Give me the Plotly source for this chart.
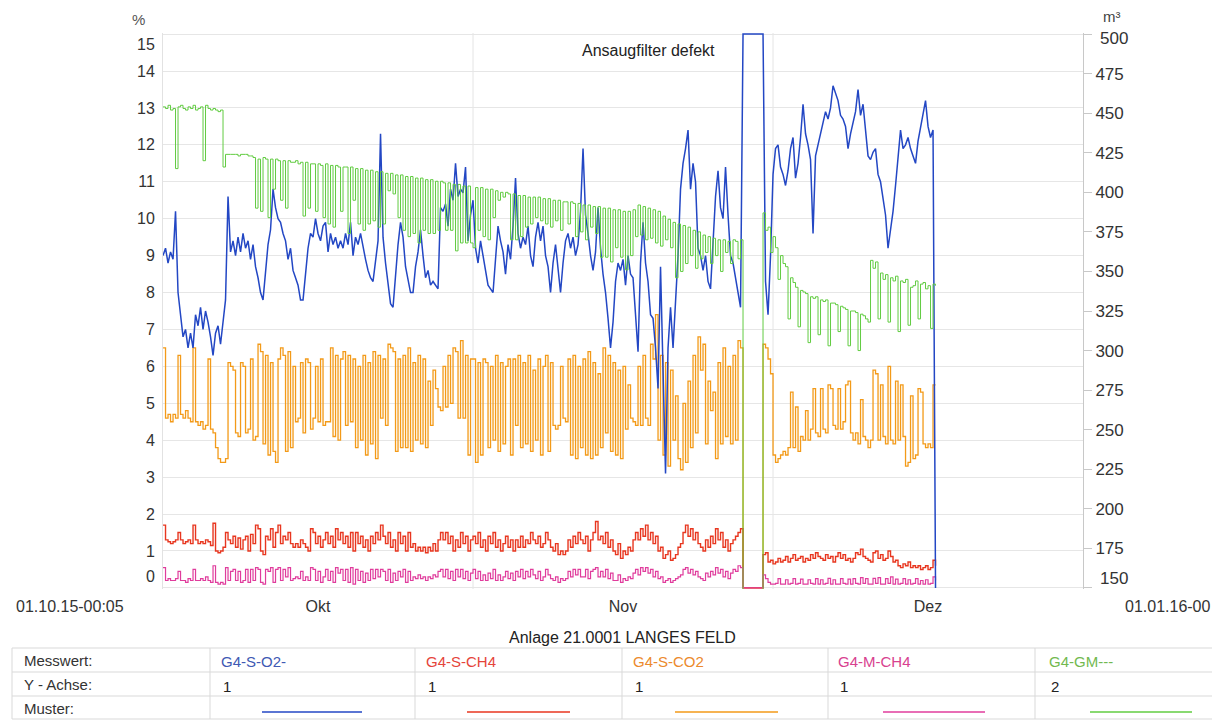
import pandas as pd
import plotly.graph_objects as go

# ---------------- data (6-hour samples from 01.10.2015 00:05) ----------------
# G4-S-O2-  (%; left axis)  - values above the scale are shown clamped at 15
o2 = [
    9.0, 9.2, 8.8, 9.1, 8.9, 10.2, 8.0, 7.3,
    6.8, 7.0, 6.5, 6.9, 6.5, 7.4, 7.1, 7.6,
    7.0, 7.5, 7.2, 6.8, 6.3, 6.9, 7.1, 6.6,
    7.2, 7.8, 10.6, 9.1, 9.4, 9.0, 9.5, 9.1,
    9.6, 9.2, 9.4, 8.9, 9.3, 8.7, 8.4, 8.0,
    7.8, 8.5, 9.3, 9.7, 10.8, 10.3, 10.0, 9.9,
    9.6, 9.4, 8.9, 9.2, 8.6, 8.4, 8.2, 7.8,
    7.8, 8.5, 9.2, 9.6, 9.5, 10.0, 9.6, 9.4,
    9.8, 9.9, 9.1, 9.6, 9.3, 9.5, 9.2, 9.4,
    9.2, 9.6, 9.3, 9.9, 9.0, 9.5, 9.3, 9.6,
    9.2, 8.9, 8.6, 8.4, 8.3, 8.8, 9.4, 12.3,
    9.5, 8.8, 8.2, 7.7, 7.6, 8.6, 9.3, 9.9,
    9.5, 8.7, 8.3, 8.0, 8.0, 8.7, 9.1, 9.7,
    9.0, 8.4, 8.6, 8.2, 8.3, 8.2, 8.1, 10.3,
    10.2, 10.4, 9.8, 10.8, 10.5, 11.5, 10.6, 10.8,
    10.7, 11.4, 9.4, 10.1, 10.5, 9.2, 8.8, 9.4,
    9.0, 8.6, 8.2, 8.1, 8.0, 8.9, 9.8, 9.4,
    9.1, 8.5, 9.3, 8.9, 9.8, 11.1, 9.6, 9.2,
    9.5, 9.3, 9.8, 9.0, 8.7, 9.5, 9.9, 9.4,
    9.8, 9.0, 8.7, 8.0, 8.8, 9.3, 8.6, 8.0,
    8.8, 9.4, 9.6, 9.2, 9.5, 9.0, 9.3, 10.2,
    11.9, 10.1, 9.6, 9.0, 8.6, 9.1, 10.3, 9.2,
    8.5, 8.0, 7.3, 6.5, 7.2, 8.3, 8.8, 8.6,
    8.9, 8.2, 9.0, 8.5, 8.4, 7.4, 6.4, 8.8,
    9.9, 8.8, 8.3, 7.4, 7.3, 6.5, 5.4, 8.7,
    6.0, 3.1, 6.5, 7.6, 6.5, 7.8, 9.0, 10.8,
    11.5, 11.9, 12.4, 10.8, 11.5, 11.0, 9.2, 9.0,
    8.6, 9.0, 8.3, 8.1, 9.2, 10.6, 11.3, 10.3,
    10.0, 11.4, 10.1, 9.0, 8.8, 8.4, 7.9, 7.6,
    15.0, 15.0, 15.0, 15.0, 15.0, 15.0, 15.0, 15.0,
    15.0, 8.3, 7.4, 9.0, 11.2, 11.9, 12.0, 11.4,
    11.2, 10.9, 11.3, 11.9, 12.2, 11.1, 11.5, 12.2,
    13.1, 12.3, 12.0, 11.6, 9.6, 11.7, 12.0, 12.3,
    12.6, 12.9, 12.7, 13.0, 13.6, 13.4, 13.2, 12.8,
    12.7, 12.5, 11.9, 12.3, 12.6, 12.9, 13.5, 12.8,
    13.1, 12.3, 11.7, 11.6, 11.8, 11.9, 11.2, 11.0,
    10.6, 10.1, 9.2, 9.7, 10.2, 10.9, 11.6, 12.4,
    11.9, 12.0, 12.2, 11.9, 11.7, 11.5, 12.1, 12.5,
    12.8, 13.2, 12.5, 12.2, 12.4, 0.0,
]

# G4-S-CO2 (%; left axis)
co2 = [
    6.5, 4.6, 4.7, 4.5, 4.7, 4.6, 6.3, 4.7,
    4.6, 4.8, 4.6, 4.5, 6.5, 4.5, 4.4, 4.5,
    4.3, 4.4, 6.2, 4.3, 4.2, 3.8, 3.5, 3.4,
    3.4, 3.5, 6.1, 6.0, 5.9, 4.2, 4.1, 6.1,
    6.0, 4.2, 4.3, 6.2, 4.0, 4.1, 6.6, 6.4,
    3.9, 6.3, 3.6, 6.1, 3.7, 3.4, 6.2, 6.5,
    6.3, 3.7, 6.4, 3.8, 6.0, 4.5, 4.6, 6.1,
    4.2, 6.2, 6.1, 4.3, 4.6, 6.0, 4.5, 6.2,
    4.4, 4.5, 4.5, 6.5, 4.1, 6.3, 4.0, 6.2,
    6.4, 4.4, 6.3, 4.5, 6.2, 3.8, 6.0, 4.0,
    6.3, 3.6, 6.1, 3.9, 6.4, 3.5, 6.3, 4.6,
    6.2, 4.4, 6.6, 6.5, 6.4, 3.7, 6.2, 3.8,
    6.3, 3.8, 6.5, 3.7, 6.1, 4.0, 6.3, 3.9,
    6.2, 3.8, 5.6, 4.4, 5.9, 5.4, 4.9, 4.8,
    6.0, 4.9, 6.3, 5.0, 6.5, 6.4, 4.6, 6.7,
    4.6, 6.3, 3.6, 6.2, 6.2, 3.4, 6.1, 3.6,
    6.2, 6.1, 3.8, 6.0, 4.0, 6.3, 3.7, 6.1,
    3.9, 6.0, 6.2, 3.6, 6.2, 4.4, 6.3, 3.8,
    6.1, 3.9, 6.3, 3.7, 5.9, 4.0, 6.2, 3.6,
    6.0, 6.3, 3.7, 6.1, 4.4, 4.3, 4.4, 6.0,
    4.6, 4.5, 6.2, 3.6, 6.3, 3.5, 6.0, 3.8,
    6.2, 3.6, 6.4, 3.5, 6.1, 3.6, 5.8, 3.8,
    6.5, 4.2, 6.3, 3.7, 6.1, 3.6, 5.9, 3.5,
    6.0, 4.3, 5.5, 4.6, 4.5, 4.4, 6.0, 4.4,
    6.3, 4.6, 4.4, 6.6, 6.2, 7.4, 4.0, 6.3,
    3.6, 6.1, 3.3, 5.9, 4.0, 5.2, 3.5, 3.2,
    5.0, 3.4, 5.6, 3.8, 6.3, 4.2, 6.8, 5.9,
    6.6, 3.9, 5.6, 4.8, 5.3, 3.5, 6.1, 3.9,
    6.5, 4.1, 6.0, 3.9, 6.3, 4.0, 6.7, 6.5,
    0.0, 0.0, 0.0, 0.0, 0.0, 0.0, 0.0, 0.0,
    6.6, 6.5, 6.2, 5.8, 3.6, 3.4, 3.5, 3.6,
    3.7, 3.6, 3.8, 5.3, 3.8, 4.9, 3.7, 4.1,
    4.0, 4.8, 4.0, 4.3, 5.4, 4.2, 4.1, 5.4,
    4.3, 4.2, 5.5, 5.4, 4.4, 4.3, 5.4, 4.3,
    4.5, 5.5, 5.6, 4.2, 4.0, 4.2, 3.9, 5.1,
    4.1, 4.0, 3.8, 4.0, 5.9, 5.8, 4.0, 5.5,
    4.1, 3.9, 6.0, 4.0, 3.9, 5.6, 4.0, 5.5,
    4.1, 3.3, 3.4, 5.2, 3.5, 3.6, 5.4, 5.3,
    3.9, 3.8, 3.9, 3.8, 5.5, 5.5,
]

# G4-S-CH4 (%; left axis)
s_ch4 = [
    1.7, 1.3, 1.25, 1.2, 1.25, 1.3, 1.5, 1.3,
    1.2, 1.25, 1.3, 1.2, 1.7, 1.3, 1.2, 1.25,
    1.2, 1.3, 1.25, 1.15, 1.75, 1.0, 0.95, 1.0,
    1.1, 1.5, 1.3, 1.2, 1.4, 1.1, 1.35, 1.05,
    1.3, 1.4, 1.0, 1.45, 1.2, 1.7, 1.6, 1.0,
    0.9, 1.4, 1.3, 1.6, 1.1, 1.5, 1.7, 1.2,
    1.4, 1.3, 1.5, 1.2, 1.1, 1.2, 1.1, 1.3,
    1.2, 1.1, 1.0, 1.6, 1.5, 1.2, 1.4, 1.1,
    1.3, 1.5, 1.2, 1.4, 1.1, 1.6, 1.3, 1.5,
    1.2, 1.4, 1.1, 1.5, 1.0, 1.5, 1.2, 1.4,
    1.1, 1.3, 1.0, 1.4, 1.2, 1.5, 1.3, 1.7,
    1.4, 1.2, 1.5, 1.1, 1.3, 1.0, 1.5, 1.2,
    1.4, 1.0, 1.5, 1.1, 1.2, 1.0, 1.1, 1.0,
    1.1, 0.95, 1.1, 1.0, 1.2, 1.0, 1.3, 1.5,
    1.3, 1.5, 1.2, 1.4, 1.0, 1.3, 1.1, 1.5,
    1.2, 1.4, 1.0, 1.3, 1.4, 1.2, 1.5, 1.1,
    1.3, 1.0, 1.4, 1.2, 1.5, 1.1, 1.3, 1.0,
    1.2, 1.4, 1.1, 1.3, 1.0, 1.3, 1.1, 1.4,
    1.1, 1.3, 1.2, 1.5, 1.3, 1.2, 1.4, 1.1,
    1.2, 1.5, 1.3, 1.1, 1.0, 1.2, 0.9, 1.0,
    0.9, 1.0, 1.3, 1.1, 1.4, 1.2, 1.5, 1.3,
    1.2, 1.4, 1.0, 1.3, 1.5, 1.8, 1.3, 1.4,
    1.2, 1.5, 1.1, 1.3, 1.0, 0.9, 1.2, 0.8,
    1.0, 0.9, 1.1, 1.0, 1.3, 1.5, 1.3, 1.6,
    1.4, 1.7, 1.3, 1.5, 1.2, 1.4, 1.0, 1.1,
    0.8, 0.9, 1.0, 0.75, 0.8, 0.9, 1.1, 1.2,
    1.5, 1.7, 1.4, 1.6, 1.3, 1.5, 1.2, 1.1,
    1.0, 1.3, 1.1, 1.4, 1.2, 1.6, 1.3, 1.5,
    1.1, 1.3, 1.0, 1.2, 1.3, 1.4, 1.5, 1.6,
    0.0, 0.0, 0.0, 0.0, 0.0, 0.0, 0.0, 0.0,
    0.9, 0.95, 0.7, 0.75, 0.65, 0.7, 0.8, 0.7,
    0.75, 0.85, 0.7, 0.8, 0.9, 0.75, 0.8, 0.85,
    0.7, 0.8, 0.75, 0.9, 0.8, 0.95, 0.85, 0.8,
    0.75, 0.9, 0.8, 0.85, 0.7, 0.85, 0.95, 0.8,
    0.9, 0.75, 0.8, 0.7, 0.8, 0.95, 0.9, 1.05,
    0.85, 0.8, 0.75, 0.7, 0.95, 1.0, 0.8, 0.9,
    0.75, 0.8, 1.0, 0.85, 0.7, 0.75, 0.6, 0.55,
    0.65, 0.6, 0.7, 0.55, 0.6, 0.55, 0.6, 0.5,
    0.55, 0.6, 0.5, 0.55, 0.75, 0.6,
]

# G4-M-CH4 (%; left axis)
m_ch4 = [
    0.55, 0.2, 0.25, 0.2, 0.2, 0.25, 0.45, 0.2,
    0.2, 0.15, 0.25, 0.2, 0.5, 0.2, 0.2, 0.25,
    0.2, 0.3, 0.2, 0.15, 0.6, 0.15, 0.1, 0.15,
    0.1, 0.55, 0.2, 0.45, 0.5, 0.2, 0.45, 0.15,
    0.2, 0.5, 0.15, 0.5, 0.2, 0.55, 0.5, 0.15,
    0.1, 0.5, 0.45, 0.55, 0.15, 0.5, 0.55, 0.2,
    0.5, 0.3, 0.55, 0.2, 0.25, 0.3, 0.25, 0.45,
    0.2, 0.3, 0.2, 0.55, 0.5, 0.2, 0.45, 0.15,
    0.3, 0.5, 0.2, 0.45, 0.15, 0.55, 0.4, 0.5,
    0.2, 0.5, 0.15, 0.55, 0.1, 0.5, 0.2, 0.45,
    0.15, 0.4, 0.2, 0.5, 0.25, 0.5, 0.3, 0.5,
    0.45, 0.2, 0.5, 0.15, 0.4, 0.2, 0.45, 0.3,
    0.5, 0.15, 0.45, 0.2, 0.3, 0.25, 0.35, 0.25,
    0.3, 0.2, 0.3, 0.25, 0.35, 0.3, 0.45, 0.5,
    0.3, 0.5, 0.25, 0.45, 0.2, 0.5, 0.3, 0.5,
    0.25, 0.45, 0.2, 0.4, 0.5, 0.25, 0.45, 0.2,
    0.35, 0.2, 0.4, 0.25, 0.5, 0.2, 0.35, 0.2,
    0.3, 0.45, 0.25, 0.4, 0.2, 0.45, 0.3, 0.5,
    0.25, 0.45, 0.3, 0.5, 0.35, 0.25, 0.45, 0.2,
    0.3, 0.5, 0.35, 0.25, 0.2, 0.3, 0.15, 0.25,
    0.2, 0.25, 0.45, 0.3, 0.5, 0.35, 0.5, 0.3,
    0.3, 0.5, 0.25, 0.45, 0.5, 0.55, 0.3, 0.45,
    0.3, 0.5, 0.25, 0.4, 0.2, 0.2, 0.35, 0.15,
    0.25, 0.2, 0.3, 0.25, 0.4, 0.5, 0.35, 0.55,
    0.45, 0.55, 0.4, 0.5, 0.3, 0.45, 0.25, 0.3,
    0.15, 0.2, 0.25, 0.15, 0.2, 0.25, 0.3, 0.35,
    0.5, 0.55, 0.4, 0.5, 0.35, 0.45, 0.3, 0.25,
    0.2, 0.4, 0.3, 0.45, 0.35, 0.55, 0.4, 0.5,
    0.3, 0.45, 0.25, 0.4, 0.5, 0.45, 0.6, 0.55,
    0.0, 0.0, 0.0, 0.0, 0.0, 0.0, 0.0, 0.0,
    0.35, 0.25, 0.15, 0.1, 0.1, 0.12, 0.25, 0.1,
    0.1, 0.22, 0.1, 0.12, 0.25, 0.1, 0.12, 0.24,
    0.1, 0.1, 0.22, 0.12, 0.1, 0.25, 0.1, 0.22,
    0.1, 0.12, 0.26, 0.1, 0.22, 0.1, 0.1, 0.25,
    0.12, 0.1, 0.24, 0.1, 0.25, 0.12, 0.1, 0.28,
    0.12, 0.25, 0.1, 0.1, 0.26, 0.12, 0.28, 0.1,
    0.1, 0.25, 0.12, 0.3, 0.1, 0.24, 0.1, 0.12,
    0.25, 0.1, 0.22, 0.1, 0.12, 0.25, 0.1, 0.2,
    0.1, 0.22, 0.1, 0.12, 0.3, 0.2,
]

# G4-GM--- (m³; right axis)
gm = [
    454, 453, 455, 452, 453, 415, 454, 455,
    453, 452, 454, 453, 455, 452, 453, 454,
    420, 455, 453, 452, 453, 452, 451, 452,
    416, 424, 424, 424, 424, 424, 423, 424,
    424, 424, 423, 423, 422, 390, 421, 388,
    422, 421, 384, 421, 402, 421, 420, 395,
    420, 390, 420, 419, 419, 420, 418, 419,
    385, 419, 390, 418, 418, 388, 418, 417,
    384, 418, 380, 417, 378, 417, 416, 388,
    416, 416, 374, 416, 395, 415, 380, 415,
    376, 414, 380, 414, 382, 413, 378, 413,
    380, 412, 401, 412, 399, 411, 384, 411,
    376, 410, 372, 410, 374, 409, 368, 409,
    376, 408, 374, 408, 374, 407, 376, 407,
    406, 376, 406, 376, 405, 363, 405, 368,
    404, 368, 404, 368, 365, 403, 376, 403,
    372, 402, 370, 402, 384, 401, 395, 400,
    397, 400, 399, 370, 399, 370, 398, 372,
    398, 378, 397, 380, 397, 384, 397, 382,
    396, 380, 396, 378, 395, 382, 395, 376,
    394, 394, 380, 394, 393, 372, 393, 375,
    392, 370, 392, 378, 391, 374, 391, 359,
    390, 359, 390, 356, 389, 365, 389, 359,
    388, 351, 388, 360, 389, 372, 392, 373,
    391, 370, 390, 371, 389, 368, 388, 366,
    385, 370, 383, 365, 381, 346, 380, 350,
    379, 355, 378, 360, 376, 352, 375, 358,
    373, 362, 372, 355, 371, 360, 370, 350,
    370, 362, 369, 355, 370, 369, 358, 370,
    0, 0, 0, 0, 0, 0, 0, 0,
    387, 376, 378, 362, 372, 365, 345, 360,
    355, 353, 320, 346, 343, 340, 315, 338,
    337, 336, 305, 334, 333, 334, 310, 332,
    331, 332, 303, 330, 330, 329, 312, 328,
    327, 326, 303, 325, 325, 324, 300, 323,
    322, 320, 318, 357, 352, 356, 320, 349,
    345, 348, 318, 346, 344, 347, 312, 344,
    343, 345, 316, 340, 341, 344, 320, 342,
    343, 339, 341, 314, 342, 341,
]

series_names = ["G4-S-O2-", "G4-S-CH4", "G4-S-CO2", "G4-M-CH4", "G4-GM---"]
series_axis = ["1", "1", "1", "1", "2"]
series_colors = ["#2347c4", "#e8361f", "#f39a18", "#e03c9c", "#62cc42"]
label_colors = ["#4059b3", "#e5443a", "#ec8a2c", "#d8418f", "#72b94f"]
month_ticks = ["2015-10-16 12:00", "2015-11-16 00:00", "2015-12-16 12:00"]
month_labels = ["Okt", "Nov", "Dez"]
month_bounds = ["2015-11-01", "2015-12-01"]
left_ticks = list(range(0, 16))
right_ticks = list(range(150, 501, 25))

lens = [len(o2), len(co2), len(s_ch4), len(m_ch4), len(gm)]
assert len(set(lens)) == 1, f"length mismatch {lens}"

t = pd.date_range("2015-10-01 00:05", periods=len(o2), freq="6h")

# ---------------- geometry (screen pixels; the page body adds an 8 px margin) ----------------
OFF = 8
W, H = 1220 - OFF, 720 - OFF
PL, PR, PT, PB = 163, 1083, 33, 589       # plot box in screen pixels
def px(x):
    return (x - PL) / (PR - PL)
def py(y):
    return (PB - y) / (PB - PT)

FONT = "Liberation Sans, Arial, sans-serif"

fig = go.Figure()
fig.add_trace(go.Scatter(x=t, y=gm, yaxis="y2", mode="lines",
                         line=dict(color=series_colors[4], width=1.0, shape="hv"), name=series_names[4]))
fig.add_trace(go.Scatter(x=t, y=co2, mode="lines",
                         line=dict(color=series_colors[2], width=1.3, shape="hv"), name=series_names[2]))
fig.add_trace(go.Scatter(x=t, y=s_ch4, mode="lines",
                         line=dict(color=series_colors[1], width=1.4, shape="hv"), name=series_names[1]))
fig.add_trace(go.Scatter(x=t, y=m_ch4, mode="lines",
                         line=dict(color=series_colors[3], width=1.2, shape="hv"), name=series_names[3]))
fig.add_trace(go.Scatter(x=t, y=o2, mode="lines",
                         line=dict(color=series_colors[0], width=1.5), name=series_names[0]))

shapes = []
for b in month_bounds:
    shapes.append(dict(type="line", xref="x", yref="paper", x0=b, x1=b, y0=0, y1=1,
                       line=dict(color="#e4e4e4", width=1), layer="below"))

# table grid
grid_col = "#d9d9d9"
for yy in [648, 672, 696, 719]:
    shapes.append(dict(type="line", xref="paper", yref="paper", x0=px(12), x1=px(1220),
                       y0=py(yy), y1=py(yy), line=dict(color=grid_col, width=1)))
for xx in [12, 210, 415, 622, 828, 1035]:
    shapes.append(dict(type="line", xref="paper", yref="paper", x0=px(xx), x1=px(xx),
                       y0=py(648), y1=py(719), line=dict(color=grid_col, width=1)))
# pattern samples
muster_x = [(262, 362), (467, 570), (675, 778), (883, 985), (1090, 1192)]
for (a, b), c in zip(muster_x, series_colors):
    shapes.append(dict(type="line", xref="paper", yref="paper", x0=px(a), x1=px(b),
                       y0=py(712), y1=py(712), line=dict(color=c, width=1.5)))

ann = []
def text(x, y, s, size=15, color="#333", xanchor="center"):
    ann.append(dict(x=px(x), y=py(y), xref="paper", yref="paper", text=s, showarrow=False,
                    xanchor=xanchor, yanchor="middle", font=dict(family=FONT, size=size, color=color)))

text(138, 20, "%", 15, "#555")
text(1112, 17, "m³", 15, "#444")
text(648, 50, "Ansaugfilter defekt", 16, "#222")
text(70, 606, "01.10.15-00:05", 16, "#333")
text(1213, 606, "01.01.16-00", 16, "#333", "right")
text(622, 637, "Anlage 21.0001 LANGES FELD", 16, "#222")
text(22, 660, "Messwert:", 15, "#333", "left")
text(22, 684, "Y - Achse:", 15, "#333", "left")
text(22, 708, "Muster:", 15, "#333", "left")
col_x = [219, 424, 631, 836, 1047]
for cx, nm, ax, lc in zip(col_x, series_names, series_axis, label_colors):
    text(cx, 661, nm, 15, lc, "left")
    text(cx + 2, 686, ax, 15, "#222", "left")

# end tick labels of both axes sit slightly inside the plot box, as in the print
for val, shift in [(left_ticks[-1], -10), (left_ticks[0], 11)]:
    ann.append(dict(x=px(157), xref="paper", y=val, yref="y", yshift=shift, text=str(val),
                    showarrow=False, xanchor="right", yanchor="middle",
                    font=dict(family=FONT, size=16, color="#333")))
for val, shift in [(right_ticks[-1], -4), (right_ticks[0], 9)]:
    ann.append(dict(x=px(1098), xref="paper", y=val, yref="y2", yshift=shift, text=str(val),
                    showarrow=False, xanchor="left", yanchor="middle",
                    font=dict(family=FONT, size=17, color="#333")))
left_text = ["" if v in (left_ticks[0], left_ticks[-1]) else str(v) for v in left_ticks]
right_text = ["" if v in (right_ticks[0], right_ticks[-1]) else str(v) for v in right_ticks]

fig.update_layout(
    width=W, height=H,
    margin=dict(l=PL - OFF, r=W - (PR - OFF), t=PT - OFF, b=H - (PB - OFF), pad=0),
    paper_bgcolor="white", plot_bgcolor="white",
    showlegend=False,
    font=dict(family=FONT, size=15, color="#333"),
    xaxis=dict(type="date", range=["2015-10-01", "2016-01-01"],
               tickmode="array", tickvals=month_ticks, ticktext=month_labels,
               showgrid=False, zeroline=False, showline=False, ticks="",
               tickfont=dict(size=16, color="#333"), ticklabelstandoff=6),
    yaxis=dict(range=[-0.03, 15.03], tickmode="array", tickvals=left_ticks, ticktext=left_text,
               showgrid=True, gridcolor="#e6e6e6", gridwidth=1, zeroline=False,
               showline=True, linecolor="#e2e2e2", ticks="",
               tickfont=dict(size=16, color="#333"), ticklabelstandoff=4),
    yaxis2=dict(range=[149.3, 500.7], overlaying="y", side="right",
                tickmode="array", tickvals=right_ticks, ticktext=right_text,
                showgrid=False, zeroline=False, showline=True, linecolor="#c8c8c8",
                ticks="outside", ticklen=8, tickcolor="#c8c8c8",
                tickfont=dict(size=17, color="#333")),
    shapes=shapes,
    annotations=ann,
)

fig.write_html("out.html")
